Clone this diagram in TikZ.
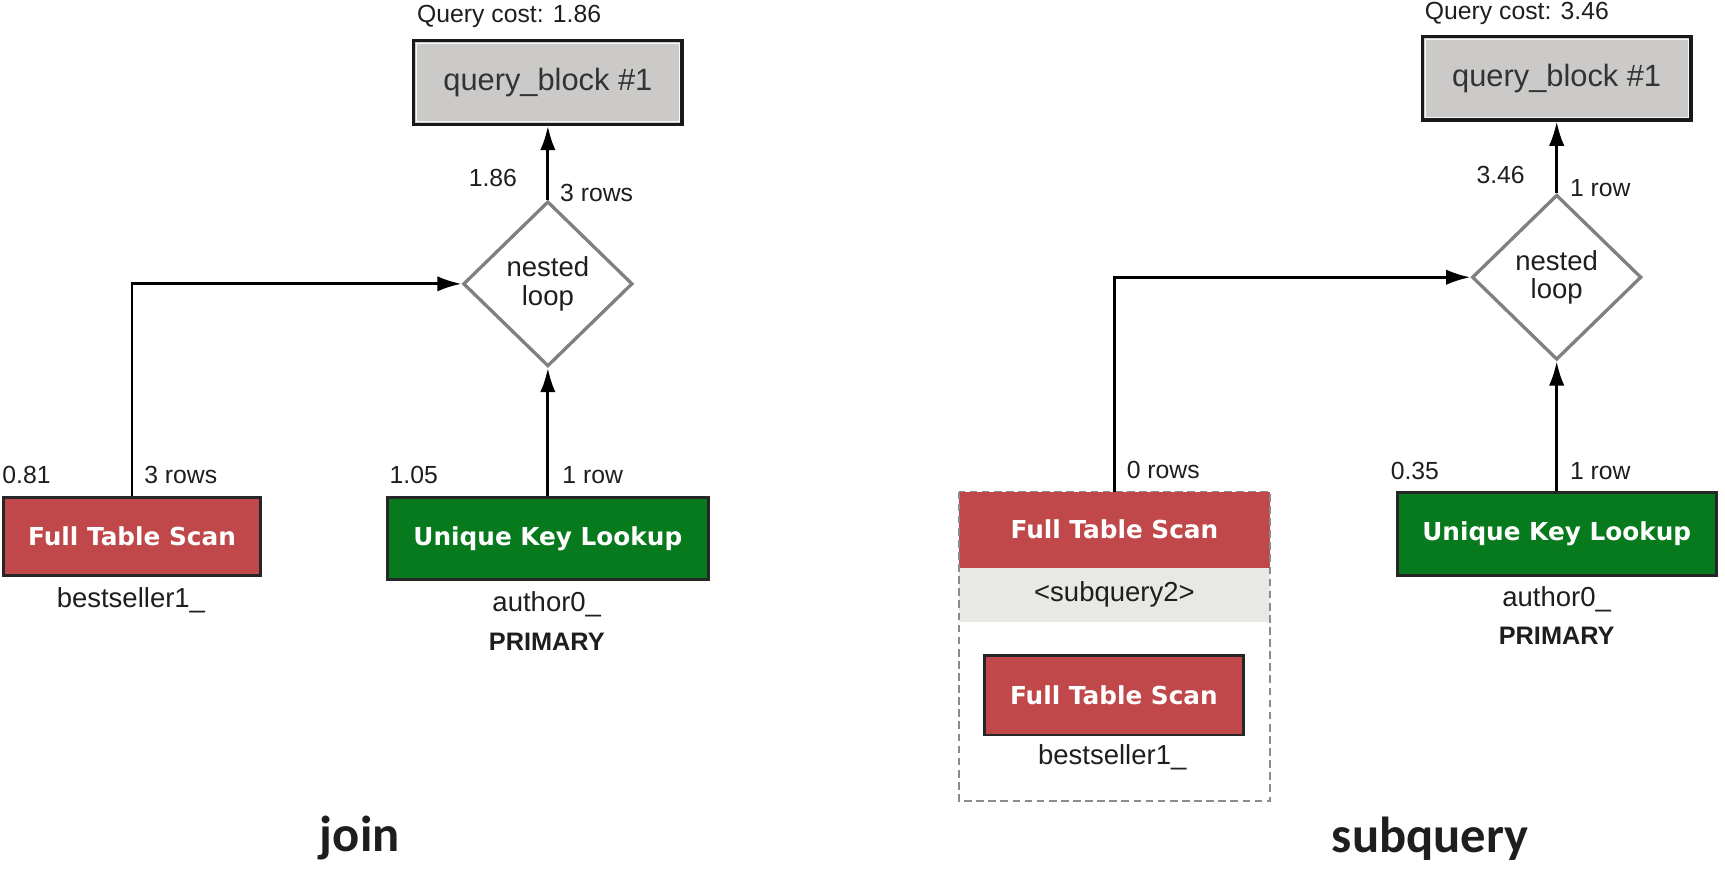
\documentclass[tikz,border=0pt]{standalone}
\usepackage{fontspec}
\setmainfont{Liberation Sans}
\newfontfamily\dvfont{DejaVu Sans}
\newfontfamily\carlfont{Carlito}
\usetikzlibrary{shapes.geometric,arrows.meta}
\definecolor{qgray}{RGB}{203,202,200}
\definecolor{fred}{RGB}{192,71,74}
\definecolor{fgreen}{RGB}{8,122,30}
\definecolor{dgray}{RGB}{128,128,128}
\definecolor{bandgray}{RGB}{232,232,228}
\definecolor{dashgray}{RGB}{140,140,140}
\definecolor{txt}{RGB}{30,30,30}
\begin{document}
\begin{tikzpicture}[x=1pt,y=-1pt,
  lbl/.style={font=\fontsize{22.5}{25}\selectfont, text=txt, inner sep=0},
  sublbl/.style={font=\fontsize{25}{28}\selectfont, text=txt, inner sep=0},
  boldlbl/.style={font=\bfseries\fontsize{23}{26}\selectfont, text=txt, inner sep=0},
  title/.style={font=\carlfont\bfseries\fontsize{46}{50}\selectfont, text=txt, inner sep=0},
  qbox/.style={draw=black!90, line width=3pt, fill=qgray, minimum width=244pt, minimum height=76pt, inner sep=0, font=\fontsize{28}{31}\selectfont, text=black!80},
  opfont/.style={font=\dvfont\bfseries\fontsize{22.5}{26}\selectfont},
  opbox/.style={draw=black!85, line width=2.5pt, text=white, opfont, inner sep=0},
  redbox/.style={opbox, fill=fred},
  greenbox/.style={opbox, fill=fgreen},
  loopd/.style={diamond, draw=dgray, line width=3pt, fill=white, minimum width=154pt, minimum height=150pt, inner sep=0, align=center, font=\fontsize{25}{26}\selectfont, text=txt},
  arr/.style={line width=2.5pt, draw=black, -{Latex[length=22pt,width=14pt]}},
  inner/.style={draw=white!85!qgray, line width=1pt}
]
\useasboundingbox (0,0) rectangle (1568,793);

% ---------------- join ----------------
\node[lbl, anchor=west] (cost1) at (379,15) {Query cost: 1.86};
\node[qbox] (qb1) at (498,75) {query\_block \#1};
\draw[inner] ([xshift=4pt,yshift=-4pt]qb1.north west) rectangle ([xshift=-4pt,yshift=4pt]qb1.south east);
\node[loopd] (nl1) at (498,258) {nested\\loop};
\node[redbox, minimum width=234pt, minimum height=71pt] (fts1) at (120,487.5) {Full Table Scan};
\node[greenbox, minimum width=292pt, minimum height=75pt] (ukl1) at (498,489.5) {Unique Key Lookup};

\draw[arr] (nl1.north) -- (qb1.south);
\draw[arr] (fts1.north) |- (nl1.west);
\draw[arr] (ukl1.north) -- (nl1.south);

\node[lbl] (c186) at (448,162) {1.86};
\node[lbl, anchor=west] (r3a) at (509,175) {3 rows};
\node[lbl, anchor=west] (c081) at (2,432) {0.81};
\node[lbl, anchor=west] (r3b) at (131,432) {3 rows};
\node[lbl, anchor=west] (c105) at (354,432) {1.05};
\node[lbl, anchor=west] (r1a) at (511,432) {1 row};
\node[sublbl] (bs1) at (119,546) {bestseller1\_};
\node[sublbl] (au1) at (497,549) {author0\_};
\node[boldlbl] (pk1) at (497,583) {PRIMARY};
\node[title] (tjoin) at (327,762) {join};

% ---------------- subquery ----------------
\node[lbl, anchor=west] (cost2) at (1295,12) {Query cost: 3.46};
\node[qbox] (qb2) at (1415,71) {query\_block \#1};
\draw[inner] ([xshift=4pt,yshift=-4pt]qb2.north west) rectangle ([xshift=-4pt,yshift=4pt]qb2.south east);
\node[loopd] (nl2) at (1415,252) {nested\\loop};
\node[greenbox, minimum width=290pt, minimum height=75pt] (ukl2) at (1415,485.5) {Unique Key Lookup};

\node[fill=white, minimum width=282pt, minimum height=281pt, inner sep=0] (sqc) at (1013,587.5) {};
\node[fill=fred, minimum width=282pt, minimum height=69pt, inner sep=0, text=white, opfont] (sqh) at (1013,481.5) {Full Table Scan};
\node[fill=bandgray, minimum width=282pt, minimum height=49pt, inner sep=0, font=\fontsize{25}{28}\selectfont, text=txt] (sqb) at (1013,540.5) {<subquery2>};
\draw[draw=dashgray, line width=1.5pt, dash pattern=on 7pt off 4pt] (sqc.north west) rectangle (sqc.south east);
\node[redbox, minimum width=235pt, minimum height=72pt] (fts2) at (1012.5,632) {Full Table Scan};
\node[sublbl] (bs2) at (1011,688) {bestseller1\_};

\draw[arr] (nl2.north) -- (qb2.south);
\draw[arr] (sqh.north) |- (nl2.west);
\draw[arr] (ukl2.north) -- (nl2.south);

\node[lbl] (c346) at (1364,159) {3.46};
\node[lbl, anchor=west] (r1b) at (1427,171) {1 row};
\node[lbl, anchor=west] (r0) at (1024,427) {0 rows};
\node[lbl, anchor=west] (c035) at (1264,428) {0.35};
\node[lbl, anchor=west] (r1c) at (1427,428) {1 row};
\node[sublbl] (au2) at (1415,545) {author0\_};
\node[boldlbl] (pk2) at (1415,578) {PRIMARY};
\node[title] (tsub) at (1300,762) {subquery};
\end{tikzpicture}
\end{document}
